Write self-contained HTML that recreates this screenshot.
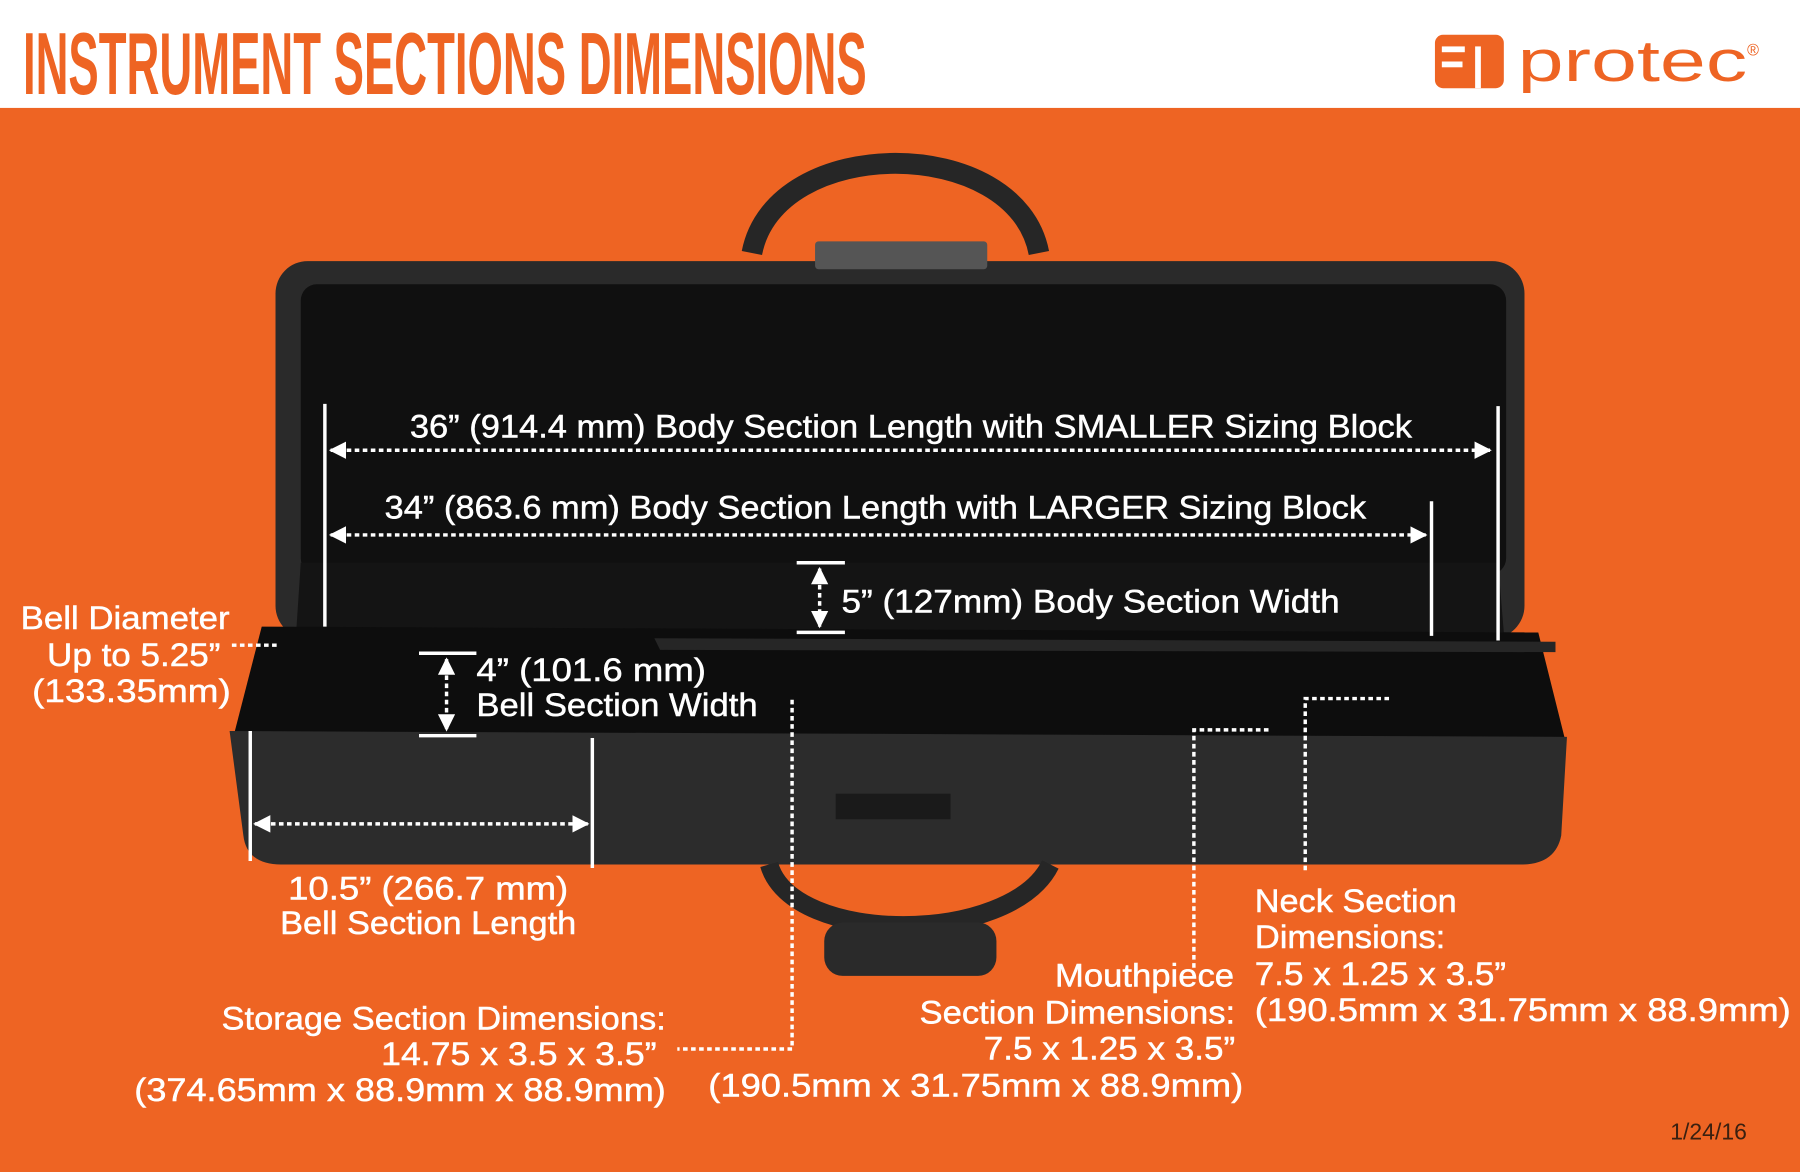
<!DOCTYPE html>
<html><head><meta charset="utf-8"><style>
html,body{margin:0;padding:0;background:#fff;}
svg{display:block;}
text{font-family:"Liberation Sans",sans-serif;fill:#fff;font-size:28px;stroke:#fff;stroke-width:0.4;}
</style></head><body>
<svg width="1800" height="1172" viewBox="0 0 1568 1010" preserveAspectRatio="none" xmlns="http://www.w3.org/2000/svg">
<defs>
<marker id="a" viewBox="0 0 10 10" refX="9" refY="5" markerWidth="5" markerHeight="5" orient="auto-start-reverse"><path d="M0 0L10 5L0 10z" fill="#fff"/></marker>
</defs>
<rect width="1568" height="1010" fill="#fff"/>
<rect y="93" width="1568" height="917" fill="#ee6423"/>
<text x="20" y="81" style="font-size:76px;font-weight:bold;fill:#ee6423;stroke:none" textLength="735" lengthAdjust="spacingAndGlyphs">INSTRUMENT SECTIONS DIMENSIONS</text>
<rect x="1250" y="30" width="60" height="46" rx="7" fill="#ee6423"/>
<rect x="1256" y="40" width="20" height="5" fill="#fff"/><rect x="1285" y="40" width="5" height="36" fill="#fff"/><rect x="1256" y="53" width="18" height="5" fill="#fff"/>
<text x="1322" y="70" style="font-size:50px;fill:#ee6423;stroke:none" textLength="200" lengthAdjust="spacingAndGlyphs">protec</text>
<text x="1522" y="48" style="font-size:14px;fill:#ee6423;stroke:none">®</text>
<path d="M655 218 C675 115,885 115,905 218" fill="none" stroke="#262626" stroke-width="18"/>
<rect x="240" y="225" width="1088" height="325" rx="28" fill="#2a2a2a"/>
<rect x="262" y="245" width="1050" height="250" rx="14" fill="#101010"/>
<rect x="710" y="208" width="150" height="24" rx="3" fill="#555"/>
<path d="M262 485 L1305 485 L1310 545 L258 545 Z" fill="#141414"/>
<path d="M228 540 L1340 545 L1364 640 L202 640 Z" fill="#0d0d0d"/>
<path d="M200 630 L1365 635 L1360 720 Q1355 745 1325 745 L245 745 Q215 745 212 720 Z" fill="#2c2c2c"/>
<path d="M570 550 L1355 553 L1355 562 L575 560 Z" fill="#262626"/>
<path d="M670 745 C690 815,880 815,915 745" fill="none" stroke="#262626" stroke-width="16"/>
<rect x="718" y="795" width="150" height="46" rx="16" fill="#2a2a2a"/>
<rect x="728" y="684" width="100" height="22" fill="#1a1a1a"/>
<g stroke="#fff" fill="none">
<path d="M283 348V540M1305 350V552M1247 432V548M218 630V742M516 636V748" stroke-width="3"/>
<path d="M694 485H736M694 545H736M365 563H415M365 634H415" stroke-width="3"/>
<g stroke-width="3" stroke-dasharray="4 3">
<path d="M288 388H1298" marker-start="url(#a)" marker-end="url(#a)"/>
<path d="M288 461H1242" marker-start="url(#a)" marker-end="url(#a)"/>
<path d="M714 490V540" marker-start="url(#a)" marker-end="url(#a)"/>
<path d="M389 568V629" marker-start="url(#a)" marker-end="url(#a)"/>
<path d="M222 710H512" marker-start="url(#a)" marker-end="url(#a)"/>
<path d="M202 556H243"/>
<path d="M690 603V904H590"/>
<path d="M1105 629H1040V835"/>
<path d="M1210 602H1137V750"/>
</g>
</g>
<text x="357" y="377" textLength="873" lengthAdjust="spacingAndGlyphs">36” (914.4 mm) Body Section Length with SMALLER Sizing Block</text>
<text x="335" y="447" textLength="855" lengthAdjust="spacingAndGlyphs">34” (863.6 mm) Body Section Length with LARGER Sizing Block</text>
<text x="733" y="528" textLength="434" lengthAdjust="spacingAndGlyphs">5” (127mm) Body Section Width</text>
<text x="18" y="542" textLength="182" lengthAdjust="spacingAndGlyphs">Bell Diameter</text>
<text x="41" y="574" textLength="151" lengthAdjust="spacingAndGlyphs">Up to 5.25”</text>
<text x="28" y="605" textLength="173" lengthAdjust="spacingAndGlyphs">(133.35mm)</text>
<text x="193" y="887" textLength="387" lengthAdjust="spacingAndGlyphs">Storage Section Dimensions:</text>
<text x="332" y="918" textLength="240" lengthAdjust="spacingAndGlyphs">14.75 x 3.5 x 3.5”</text>
<text x="117" y="949" textLength="463" lengthAdjust="spacingAndGlyphs">(374.65mm x 88.9mm x 88.9mm)</text>
<text x="919" y="850" textLength="156" lengthAdjust="spacingAndGlyphs">Mouthpiece</text>
<text x="801" y="882" textLength="275" lengthAdjust="spacingAndGlyphs">Section Dimensions:</text>
<text x="857" y="913" textLength="219" lengthAdjust="spacingAndGlyphs">7.5 x 1.25 x 3.5”</text>
<text x="617" y="945" textLength="466" lengthAdjust="spacingAndGlyphs">(190.5mm x 31.75mm x 88.9mm)</text>
<text x="415" y="587" textLength="200" lengthAdjust="spacingAndGlyphs">4” (101.6 mm)</text>
<text x="415" y="617" textLength="245" lengthAdjust="spacingAndGlyphs">Bell Section Width</text>
<text x="251" y="775" textLength="244" lengthAdjust="spacingAndGlyphs">10.5” (266.7 mm)</text>
<text x="244" y="805" textLength="258" lengthAdjust="spacingAndGlyphs">Bell Section Length</text>
<text x="1093" y="786" textLength="176" lengthAdjust="spacingAndGlyphs">Neck Section</text>
<text x="1093" y="817" textLength="166" lengthAdjust="spacingAndGlyphs">Dimensions:</text>
<text x="1093" y="849" textLength="219" lengthAdjust="spacingAndGlyphs">7.5 x 1.25 x 3.5”</text>
<text x="1093" y="880" textLength="467" lengthAdjust="spacingAndGlyphs">(190.5mm x 31.75mm x 88.9mm)</text>
<text x="1455" y="982" style="font-size:20px;fill:#3a2010;stroke:none">1/24/16</text>
</svg>
</body></html>
